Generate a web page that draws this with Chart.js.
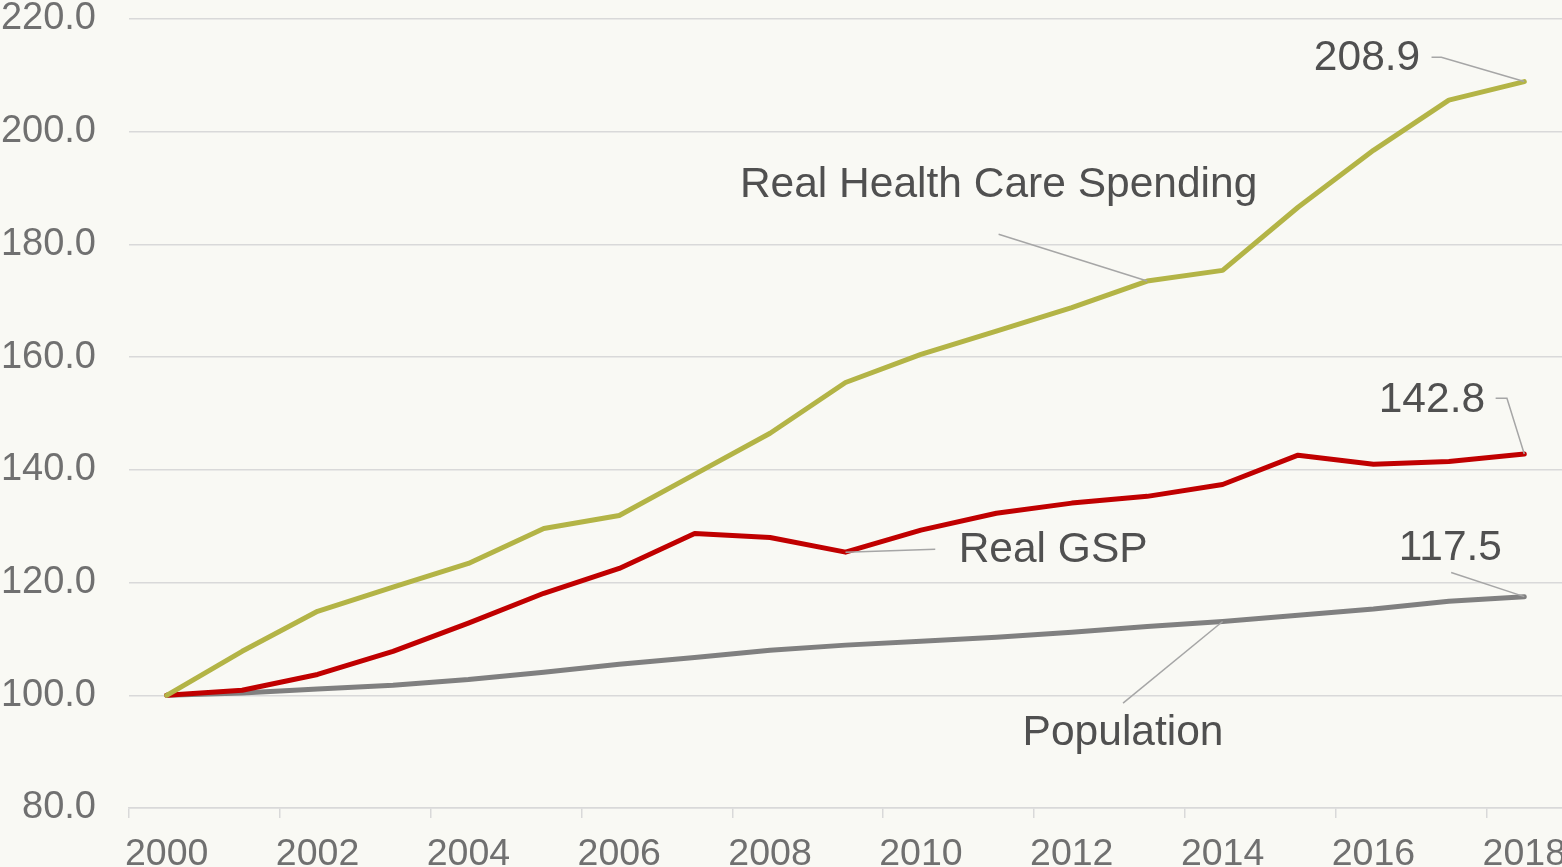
<!DOCTYPE html>
<html>
<head>
<meta charset="utf-8">
<script src="https://cdn.jsdelivr.net/npm/chart.js@4.4.1/dist/chart.umd.min.js"></script>
<style>
  html, body { margin: 0; padding: 0; background: #f9f9f4; }
  #wrap { width: 1562px; height: 867px; position: relative; }
</style>
</head>
<body>
<div id="wrap"><canvas id="chart"></canvas></div>
<script>
// Data (index, 2000 = 100)
const years = ["2000","2001","2002","2003","2004","2005","2006","2007","2008","2009",
               "2010","2011","2012","2013","2014","2015","2016","2017","2018"];
const healthSpending = [100.0, 107.8, 114.9, 119.2, 123.4, 129.6, 131.9, 139.2, 146.5, 155.5,
                        160.5, 164.6, 168.8, 173.5, 175.4, 186.6, 196.7, 205.6, 208.9];
const realGSP = [100.0, 100.9, 103.7, 107.8, 112.8, 118.1, 122.5, 128.7, 128.0, 125.4,
                 129.3, 132.3, 134.1, 135.3, 137.4, 142.6, 141.0, 141.5, 142.8];
const population = [100.0, 100.4, 101.1, 101.8, 102.8, 104.1, 105.5, 106.7, 108.0, 108.9,
                    109.6, 110.3, 111.2, 112.2, 113.1, 114.2, 115.3, 116.7, 117.5];
const yTicks = [80, 100, 120, 140, 160, 180, 200, 220];

// Colors
const colHealth = "#b3b446";
const colGSP = "#c00000";
const colPop = "#808080";
const gridColor = "#d9d9d9";

// Callout labels: text position in data units (category index, value), leader path, anchored point
const callouts = [
  { text: "208.9", align: "right", tx: 16.62, ty: 213.0, path: [[16.77, 213.2], [16.90, 213.2]], series: 0, idx: 18 },
  { text: "142.8", align: "right", tx: 17.48, ty: 152.3, path: [[17.62, 152.7], [17.77, 152.7]], series: 1, idx: 18 },
  { text: "117.5", align: "center", tx: 17.02, ty: 126.1, path: [[17.03, 121.8]], series: 2, idx: 18 },
  { text: "Real Health Care Spending", align: "center", tx: 11.03, ty: 190.5, path: [[11.03, 181.8]], series: 0, idx: 13 },
  { text: "Real GSP", align: "left", tx: 10.5, ty: 125.7, path: [[10.19, 125.9]], series: 1, idx: 9 },
  { text: "Population", align: "center", tx: 12.68, ty: 93.3, path: [[12.68, 98.6]], series: 2, idx: 14 }
];

const bgPlugin = {
  id: "bg",
  beforeDraw(chart) {
    const ctx = chart.ctx;
    ctx.save();
    ctx.fillStyle = "#f9f9f4";
    ctx.fillRect(0, 0, chart.width, chart.height);
    ctx.restore();
  }
};

const calloutPlugin = {
  id: "callouts",
  afterDatasetsDraw(chart) {
    const ctx = chart.ctx;
    const x = chart.scales.x, y = chart.scales.y;
    ctx.save();
    callouts.forEach(c => {
      const pt = chart.getDatasetMeta(c.series).data[c.idx];
      ctx.beginPath();
      c.path.forEach((p, i) => {
        const px = x.getPixelForValue(p[0]), py = y.getPixelForValue(p[1]);
        if (i === 0) ctx.moveTo(px, py); else ctx.lineTo(px, py);
      });
      ctx.lineTo(pt.x, pt.y);
      ctx.strokeStyle = "#a6a6a6";
      ctx.lineWidth = 1.5;
      ctx.stroke();

      ctx.font = "42.5px 'Liberation Sans', Arial, sans-serif";
      ctx.fillStyle = "#505050";
      ctx.textAlign = c.align;
      ctx.textBaseline = "middle";
      ctx.fillText(c.text, x.getPixelForValue(c.tx), y.getPixelForValue(c.ty));
    });
    ctx.restore();
  }
};

function series(label, data, color) {
  return {
    label: label,
    data: data,
    borderColor: color,
    backgroundColor: color,
    borderWidth: 5,
    pointRadius: 0,
    tension: 0,
    borderCapStyle: "round",
    borderJoinStyle: "round"
  };
}

new Chart(document.getElementById("chart"), {
  type: "line",
  data: {
    labels: years,
    datasets: [
      series("Real Health Care Spending", healthSpending, colHealth),
      series("Real GSP", realGSP, colGSP),
      series("Population", population, colPop)
    ]
  },
  options: {
    responsive: true,
    maintainAspectRatio: false,
    animation: false,
    layout: { padding: { top: 19, right: 0, left: 0, bottom: 0 } },
    plugins: { legend: { display: false }, tooltip: { enabled: false } },
    scales: {
      x: {
        type: "category",
        offset: true,
        grid: {
          offset: true,
          drawOnChartArea: false,
          drawTicks: true,
          tickLength: 10,
          lineWidth: 1.5,
          tickColor: ctx => (ctx.index % 2 === 0 ? gridColor : "rgba(0,0,0,0)")
        },
        border: { display: true, color: gridColor, width: 1.5 },
        ticks: {
          autoSkip: false,
          maxRotation: 0,
          padding: 14,
          color: "#707070",
          font: { family: "'Liberation Sans', Arial, sans-serif", size: 37.5 },
          callback: (v, i) => (i % 2 === 0 ? years[i] : "")
        },
        afterFit: s => { s.height = 59; s.paddingRight = 0; s.paddingLeft = 0; }
      },
      y: {
        min: 80,
        max: 220,
        afterBuildTicks: s => { s.ticks = yTicks.map(v => ({ value: v })); },
        grid: { color: gridColor, lineWidth: 1.5, drawTicks: false },
        border: { display: false },
        ticks: {
          padding: 33,
          color: "#707070",
          font: { family: "'Liberation Sans', Arial, sans-serif", size: 38 },
          callback: v => v.toFixed(1)
        },
        afterFit: s => { s.width = 129; s.paddingTop = 0; s.paddingBottom = 0; }
      }
    }
  },
  plugins: [bgPlugin, calloutPlugin]
});
</script>
</body>
</html>
